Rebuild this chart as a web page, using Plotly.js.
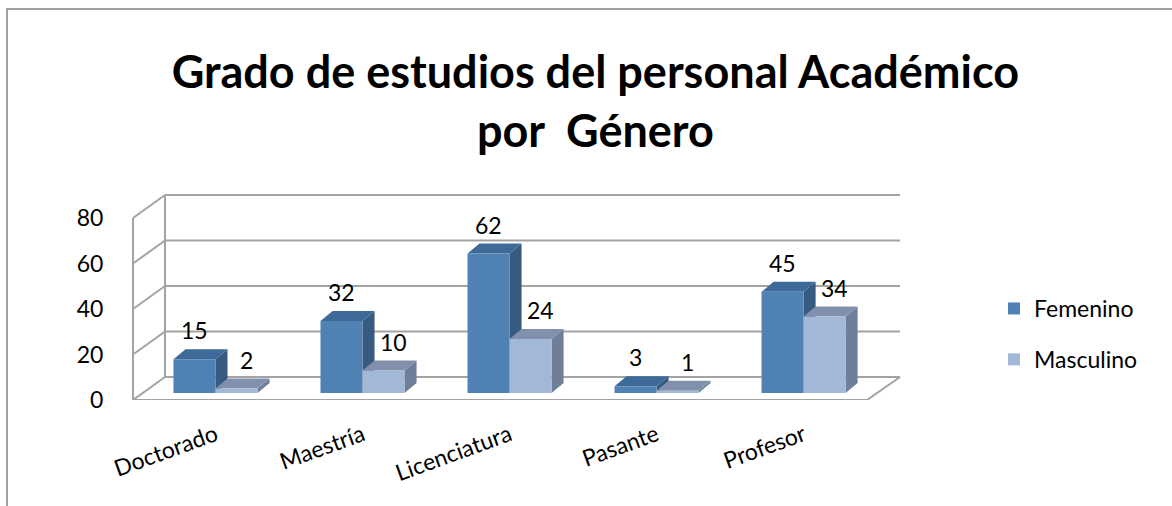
<!DOCTYPE html>
<html>
<head>
<meta charset="utf-8">
<script src="https://cdn.plot.ly/plotly-3.0.1.min.js"></script>
<style>html,body{margin:0;padding:0;background:#fff;}#chart{width:1172px;height:506px;}</style>
</head>
<body>
<div id="chart"></div>
<script>
// ---- data ----
const categories = ['Doctorado', 'Maestría', 'Licenciatura', 'Pasante', 'Profesor'];
const femenino = [15, 32, 62, 3, 45];
const masculino = [2, 10, 24, 1, 34];
const seriesNames = ['Femenino', 'Masculino'];
const yTicks = [0, 20, 40, 60, 80];
const titleText = '<b>Grado de estudios del personal Académico<br>por  Género</b>';

// ---- styling / geometry ----
const FONT = 'Lato, "Open Sans", sans-serif';
const colFront = ['#4F81B3', '#A3B7D7'];
const colTop = ['#3D6A98', '#8191AD'];
const colSide = ['#375A80', '#6F7F99'];
const gridCol = '#A3A3A3';

const W = 1172, H = 506;
const L = 133, R = 900, T = 190, B = 400;      // plot area in pixels
const pxX = (px) => (px - L) / (R - L);         // pixel -> paper x
const pxY = (py) => (B - py) / (B - T);         // pixel -> paper y

const barW = 0.2857;        // bar width in category units
const dx = 0.082;           // 3D depth offset (category units)
const dy = 4.44;            // 3D depth offset (value units on bar axis)
const wallDepth = 10.11;    // depth of floor/wall in back-axis units

const shapes = [];
// chart border
shapes.push({type: 'rect', xref: 'paper', yref: 'paper', x0: pxX(7), x1: pxX(1180), y0: pxY(515), y1: pxY(9),
  line: {color: '#A0A0A0', width: 2}, fillcolor: 'rgba(0,0,0,0)', layer: 'below'});

// back wall gridlines and left wall diagonals (y3 = back axis)
const backLeft = pxX(165), frontRight = pxX(867);
const ln = {color: gridCol, width: 2};
yTicks.forEach(t => {
  shapes.push({type: 'line', xref: 'paper', yref: 'y3', x0: backLeft, x1: 1, y0: t, y1: t, line: ln, layer: 'below'});
  shapes.push({type: 'line', xref: 'paper', yref: 'y3', x0: backLeft, x1: 0, y0: t, y1: t - wallDepth, line: ln, layer: 'below'});
});
const yMax = yTicks[yTicks.length - 1];
shapes.push({type: 'line', xref: 'paper', yref: 'y3', x0: backLeft, x1: backLeft, y0: 0, y1: yMax, line: ln, layer: 'below'});
shapes.push({type: 'line', xref: 'paper', yref: 'y3', x0: 0, x1: 0, y0: -wallDepth, y1: yMax - wallDepth, line: ln, layer: 'below'});
shapes.push({type: 'line', xref: 'paper', yref: 'y3', x0: 0, x1: frontRight, y0: -wallDepth, y1: -wallDepth, line: ln, layer: 'below'});
shapes.push({type: 'line', xref: 'paper', yref: 'y3', x0: frontRight, x1: 1, y0: -wallDepth, y1: 0, line: ln, layer: 'below'});

// 3D top and side faces computed from the data
[femenino, masculino].forEach((vals, s) => {
  vals.forEach((v, i) => {
    const xl = i - barW + s * barW, xr = xl + barW;
    shapes.push({type: 'path', xref: 'x', yref: 'y', layer: 'below', line: {width: 0}, fillcolor: colSide[s],
      path: `M ${xr},0 L ${xr},${v} L ${xr + dx},${v + dy} L ${xr + dx},${dy} Z`});
    shapes.push({type: 'path', xref: 'x', yref: 'y', layer: 'below', line: {width: 0}, fillcolor: colTop[s],
      path: `M ${xl},${v} L ${xr},${v} L ${xr + dx},${v + dy} L ${xl + dx},${v + dy} Z`});
  });
});

// data labels
const annotations = [];
[femenino, masculino].forEach((vals, s) => {
  vals.forEach((v, i) => {
    annotations.push({x: i - barW / 2 + s * barW, y: v + dy, xref: 'x', yref: 'y', text: String(v),
      showarrow: false, yanchor: 'bottom', yshift: 3, xshift: s === 1 ? 10 : 0,
      font: {family: FONT, size: 23, color: '#000'}});
  });
});

const traces = [femenino, masculino].map((vals, s) => ({
  type: 'bar', name: seriesNames[s], x: categories, y: vals,
  width: barW, offset: -barW + s * barW,
  marker: {color: colFront[s], line: {width: 0}},
  legendgroup: 'g' + s, hoverinfo: 'x+y'
}));

const layout = {
  width: W, height: H,
  margin: {l: L, r: W - R, t: T, b: H - B, pad: 0},
  paper_bgcolor: '#fff', plot_bgcolor: 'rgba(0,0,0,0)',
  barmode: 'overlay',
  font: {family: FONT, size: 23, color: '#000'},
  title: {text: titleText, font: {family: FONT, size: 45, color: '#000'},
    x: 0.508, xanchor: 'center', y: 1 - 88 / H, yanchor: 'top', yref: 'container'},
  xaxis: {type: 'category', range: [-0.561, 4.656], tickangle: -20, showgrid: false, zeroline: false,
    showline: false, ticks: 'outside', ticklen: 12, tickcolor: 'rgba(0,0,0,0)',
    tickfont: {family: FONT, size: 23, color: '#000'}},
  yaxis: {range: [-3.11, 90.22], visible: false, fixedrange: true},
  yaxis2: {overlaying: 'y', side: 'left', range: [0, 92.31], tickvals: yTicks, ticktext: yTicks.map(String),
    showgrid: false, zeroline: false, showline: false, ticks: 'outside', ticklen: 24, tickcolor: 'rgba(0,0,0,0)',
    tickfont: {family: FONT, size: 23, color: '#000'}},
  yaxis3: {overlaying: 'y', range: [-10.11, 82.2], visible: false},
  showlegend: true,
  legend: {x: pxX(994), y: pxY(287), xanchor: 'left', yanchor: 'top', traceorder: 'grouped',
    tracegroupgap: 18, font: {family: FONT, size: 23, color: '#000'}, bgcolor: 'rgba(0,0,0,0)'},
  shapes: shapes,
  annotations: annotations
};

// invisible helper traces so the front (y2) and back (y3) axes are active
traces.push({type: 'scatter', x: [categories[0]], y: [0], yaxis: 'y2', mode: 'markers',
  marker: {opacity: 0}, showlegend: false, hoverinfo: 'skip'});
traces.push({type: 'scatter', x: [categories[0]], y: [0], yaxis: 'y3', mode: 'markers',
  marker: {opacity: 0}, showlegend: false, hoverinfo: 'skip'});

Plotly.newPlot('chart', traces, layout, {displayModeBar: false, staticPlot: true});
</script>
</body>
</html>
